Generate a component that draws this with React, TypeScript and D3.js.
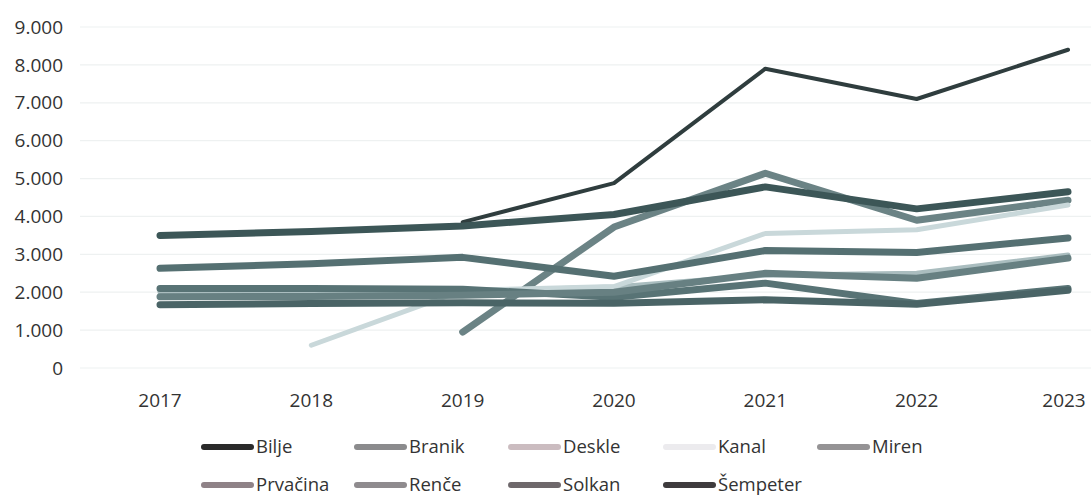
import React from "react";
import * as d3 from "d3";

const years = ["2017", "2018", "2019", "2020", "2021", "2022", "2023"];
const seriesNames = ["Bilje", "Branik", "Deskle", "Kanal", "Miren", "Prvačina", "Renče", "Solkan", "Šempeter"];

const bilje = [null, null, 3850, 4880, 7900, 7100, 8400];
const branik = [null, null, 950, 3720, 5140, 3900, 4430];
const deskle = [2000, 2000, 2020, 2140, 2450, 2500, 2980];
const kanal = [null, 600, 2050, 2150, 3550, 3650, 4300];
const miren = [2630, 2750, 2920, 2420, 3100, 3050, 3430];
const prvacina = [2100, 2100, 2080, 1870, 2240, 1700, 2100];
const rence = [1880, 1890, 1920, 2000, 2500, 2370, 2900];
const solkan = [1670, 1700, 1720, 1710, 1800, 1680, 2050];
const sempeter = [3500, 3600, 3750, 4050, 4780, 4200, 4650];

const seriesValues = [bilje, branik, deskle, kanal, miren, prvacina, rence, solkan, sempeter];
const yTicks = [0, 1000, 2000, 3000, 4000, 5000, 6000, 7000, 8000, 9000];

const lineColors = ["#2f3d3e", "#6b8385", "#aabdbf", "#c9d8da", "#557072", "#587375", "#678082", "#4a6466", "#3c5657"];
const lineWidths = [4, 7, 5, 5, 7, 7, 7, 7, 7];
const legendColors = ["#2a2a2a", "#8b8b8d", "#cbbcc0", "#ecebee", "#959395", "#8f8287", "#8f8b8e", "#6e686b", "#3e3b3d"];

const W = 1091;
const H = 504;
const FONT = "'Open Sans', 'Liberation Sans', sans-serif";

export default function App() {
  const x = d3.scalePoint<string>().domain(years).range([160, 1068]);
  const y = d3.scaleLinear().domain([0, 9000]).range([368, 27]);
  const fmt = d3.formatLocale({ decimal: ",", thousands: ".", grouping: [3], currency: ["", ""] }).format(",");

  const line = d3
    .line<number | null>()
    .defined((d) => d != null)
    .x((_, i) => x(years[i]) as number)
    .y((d) => y(d as number));

  const legendCols = [201, 354, 508, 663, 817];
  const legendRows = [447, 485];

  return (
    <svg width={W} height={H} style={{ position: "absolute", left: 0, top: 0, background: "#fff" }}>
      {yTicks.map((t) => (
        <line key={"g" + t} x1={80} x2={W} y1={y(t)} y2={y(t)} stroke="#eef1f1" strokeWidth={1.2} />
      ))}
      {yTicks.map((t) => (
        <text key={"yl" + t} x={63} y={y(t)} dy="0.35em" textAnchor="end" fontFamily={FONT} fontSize={19} fill="#333">
          {fmt(t)}
        </text>
      ))}
      {years.map((yr) => (
        <text key={"xl" + yr} x={Math.min(x(yr) as number, 1064)} y={400} dy="0.35em" textAnchor="middle" fontFamily={FONT} fontSize={19} fill="#333">
          {yr}
        </text>
      ))}
      {seriesValues.map((vals, i) => (
        <path
          key={"s" + i}
          d={line(vals) || ""}
          fill="none"
          stroke={lineColors[i]}
          strokeWidth={lineWidths[i]}
          strokeLinecap="round"
          strokeLinejoin="round"
        />
      ))}
      {seriesNames.map((name, i) => {
        const col = i < 5 ? i : i - 5;
        const row = i < 5 ? 0 : 1;
        const lx = legendCols[col];
        const ly = legendRows[row];
        return (
          <g key={"lg" + name}>
            <line x1={lx + 3} x2={lx + 50} y1={ly} y2={ly} stroke={legendColors[i]} strokeWidth={6} strokeLinecap="round" />
            <text x={lx + 55} y={ly} dy="0.35em" fontFamily={FONT} fontSize={18.5} fill="#333">
              {name}
            </text>
          </g>
        );
      })}
    </svg>
  );
}
